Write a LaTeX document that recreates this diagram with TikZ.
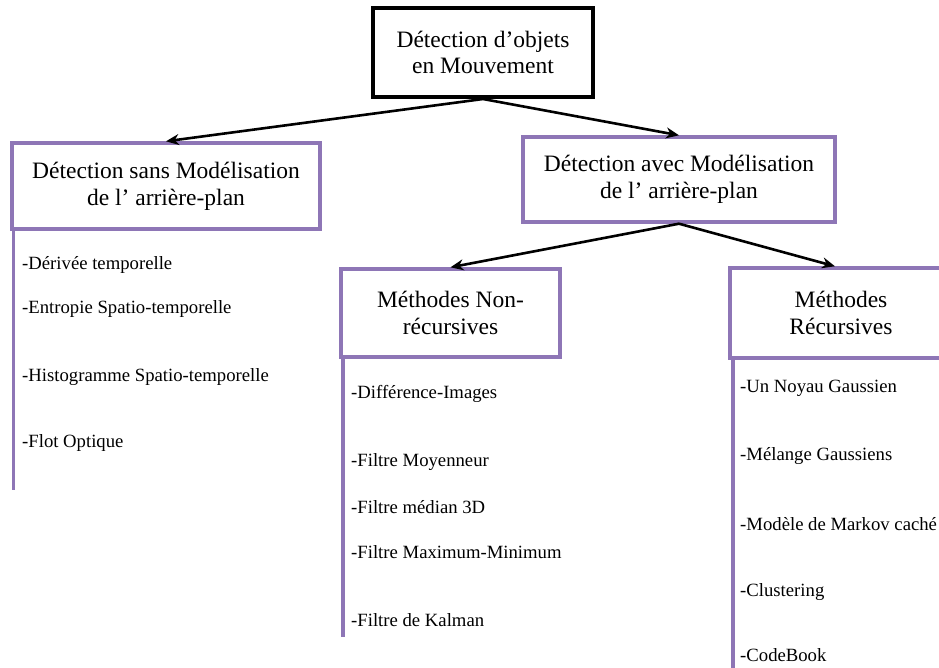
\documentclass[tikz,border=0pt]{standalone}
\usepackage{fontspec}
\setmainfont{Liberation Serif}
\usetikzlibrary{arrows.meta}
\definecolor{boxpurple}{RGB}{142,118,182}

\begin{document}
\begin{tikzpicture}[x=1pt,y=-1pt,
  rootbox/.style={draw=black,fill=white,line width=4pt,minimum width=220pt,minimum height=89pt,
    align=center,inner sep=0pt,font=\fontsize{23.5}{26}\selectfont},
  catbox/.style={draw=boxpurple,fill=white,line width=3.4pt,align=center,inner sep=0pt,
    font=\fontsize{23.5}{27}\selectfont},
  item/.style={anchor=west,inner sep=0pt,font=\fontsize{18.7}{20}\selectfont},
  link/.style={-{Stealth[length=13pt,width=11pt]},line width=2.6pt},
  rail/.style={draw=boxpurple,line width=3.4pt}]
\useasboundingbox (0,0) rectangle (939,667);
\clip (0,0) rectangle (939,667);

% vertical rails under the category boxes
\coordinate (railA top) at (13.5,185);  \coordinate (railA bot) at (13.5,490);
\coordinate (railB top) at (343,310);   \coordinate (railB bot) at (343,637);
\coordinate (railC top) at (733,315);   \coordinate (railC bot) at (733,672);
\draw[rail] (railA top) -- (railA bot);
\draw[rail] (railB top) -- (railB bot);
\draw[rail] (railC top) -- (railC bot);

% boxes
\node[rootbox] (root) at (483,52.5) {Détection d’objets\\en Mouvement};
\node[catbox,minimum width=308pt,minimum height=86pt] (sans) at (166,186)
  {Détection sans Modélisation\\de l’ arrière-plan};
\node[catbox,minimum width=312pt,minimum height=85pt] (avec) at (679,179.5)
  {Détection avec Modélisation\\de l’ arrière-plan};
\node[catbox,minimum width=219pt,minimum height=88pt] (nonrec) at (450.5,313)
  {Méthodes Non-\\récursives};
\node[catbox,minimum width=222pt,minimum height=90pt] (rec) at (841,313)
  {Méthodes\\Récursives};

% connectors
\draw[link] (root.south) -- (sans.north);
\draw[link] (root.south) -- (avec.north);
\draw[link] (avec.south) -- (nonrec.north);
\draw[link] (avec.south) -- ([xshift=-6pt]rec.north);

% methods without background modelling
\node[item] (a1) at (22,265) {-Dérivée temporelle};
\node[item] (a2) at (22,309) {-Entropie Spatio-temporelle};
\node[item] (a3) at (22,377) {-Histogramme Spatio-temporelle};
\node[item] (a4) at (22,443) {-Flot Optique};

% non-recursive methods
\node[item] (b1) at (351,394) {-Différence-Images};
\node[item] (b2) at (351,462) {-Filtre Moyenneur};
\node[item] (b3) at (351,507) {-Filtre médian 3D};
\node[item] (b4) at (351,552) {-Filtre Maximum-Minimum};
\node[item] (b5) at (351,620) {-Filtre de Kalman};

% recursive methods
\node[item] (c1) at (740,388) {-Un Noyau Gaussien};
\node[item] (c2) at (740,456) {-Mélange Gaussiens};
\node[item] (c3) at (740,524) {-Modèle de Markov caché};
\node[item] (c4) at (740,592) {-Clustering};
\node[item] (c5) at (740,655) {-CodeBook};
\end{tikzpicture}
\end{document}
